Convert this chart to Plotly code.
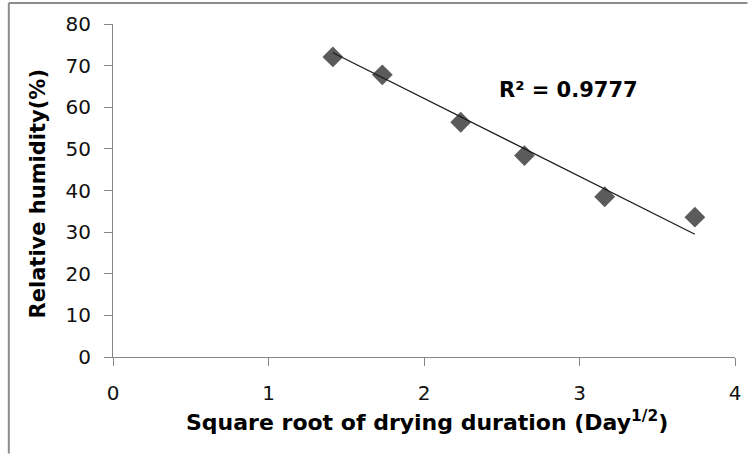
import plotly.graph_objects as go

# Data
sqrt_days = [1.414, 1.732, 2.236, 2.646, 3.162, 3.742]
rel_humidity = [72.1, 67.8, 56.4, 48.4, 38.5, 33.6]
trend_x = [1.414, 3.742]
trend_y = [73.1, 29.5]
r2_label = "R² = 0.9777"
x_ticks = [0, 1, 2, 3, 4]
y_ticks = [0, 10, 20, 30, 40, 50, 60, 70, 80]

AXIS_GRAY = "#868686"
BORDER = dict(color="#8c8c8c", width=2)

fig = go.Figure()
fig.add_trace(go.Scatter(
    x=sqrt_days, y=rel_humidity, mode="markers",
    marker=dict(symbol="diamond", size=16, color="#5b5b5b", line=dict(width=0)),
    showlegend=False, hoverinfo="skip"))
fig.add_trace(go.Scatter(
    x=trend_x, y=trend_y, mode="lines",
    line=dict(color="#1a1a1a", width=1.2),
    showlegend=False, hoverinfo="skip"))

fig.update_layout(
    width=753, height=454,
    margin=dict(l=113, r=13, t=24, b=97),
    paper_bgcolor="white", plot_bgcolor="white",
    font=dict(family="DejaVu Sans", color="#000000"),
    xaxis=dict(range=[0, 4], tickvals=x_ticks, showgrid=False, zeroline=False,
               showline=True, linecolor=AXIS_GRAY, linewidth=1,
               ticks="outside", ticklen=8, tickcolor=AXIS_GRAY, tickwidth=1,
               tickfont=dict(family="DejaVu Sans", size=20, color="#111111"),
               ticklabelstandoff=10),
    yaxis=dict(range=[0, 80], tickvals=y_ticks, showgrid=False, zeroline=False,
               showline=True, linecolor=AXIS_GRAY, linewidth=1,
               ticks="outside", ticklen=8, tickcolor=AXIS_GRAY, tickwidth=1,
               tickfont=dict(family="DejaVu Sans", size=20, color="#111111"),
               ticklabelstandoff=9),
    annotations=[
        dict(text="Square root of drying duration (Day<sup>1/2</sup>)",
             xref="paper", yref="paper", x=0.505, y=-0.192,
             xanchor="center", yanchor="middle", showarrow=False,
             font=dict(family="DejaVu Sans", size=22, color="#000000", weight="bold")),
        dict(text="Relative humidity(%)",
             xref="paper", yref="paper", x=-0.1212, y=0.49,
             xanchor="center", yanchor="middle", textangle=-90, showarrow=False,
             font=dict(family="DejaVu Sans", size=21, color="#000000", weight="bold")),
        dict(text=r2_label, xref="x", yref="y", x=2.93, y=64.2,
             xanchor="center", yanchor="middle", showarrow=False,
             font=dict(family="DejaVu Sans", size=21, color="#000000", weight="bold")),
    ],
    shapes=[
        dict(type="line", xref="paper", yref="paper",
             x0=-0.1675, x1=-0.1675, y0=-0.29, y1=1.063, line=BORDER, layer="below"),
        dict(type="line", xref="paper", yref="paper",
             x0=-0.1675, x1=1.02, y0=1.063, y1=1.063, line=BORDER, layer="below"),
    ],
)

fig.write_html("out.html")
